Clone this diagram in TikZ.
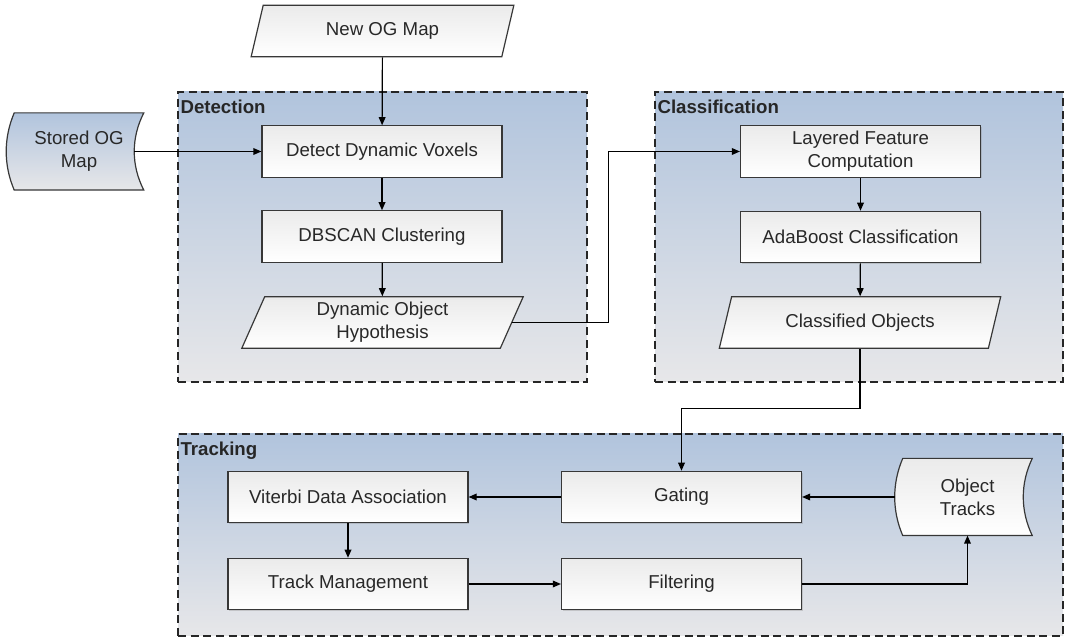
\documentclass[tikz,border=0pt]{standalone}
\usepackage{fontspec}
\setmainfont{Liberation Sans}
\usetikzlibrary{arrows.meta,shapes.geometric,shadows,fit}

\definecolor{grptop}{RGB}{177,196,221}
\definecolor{grpbot}{RGB}{231,231,233}
\definecolor{boxline}{RGB}{55,55,55}
\definecolor{textcol}{RGB}{40,40,40}

\pgfdeclarelayer{back}
\pgfdeclarelayer{mid}
\pgfsetlayers{back,mid,main}

\tikzset{
  proc/.style={rectangle, draw=boxline, line width=0.9pt, top color=black!8, bottom color=white,
    minimum width=180pt, minimum height=38.5pt, align=center, text=textcol,
    drop shadow={shadow xshift=0.9pt, shadow yshift=-0.9pt, opacity=0.3}},
  io/.style={trapezium, trapezium left angle=65, trapezium right angle=115,
    trapezium stretches body, draw=boxline, line width=0.9pt, top color=black!8, bottom color=white,
    minimum height=38.5pt, align=center, text=textcol},
  store/.style={rectangle, minimum width=96.75pt, minimum height=57.5pt, align=center, text=textcol},
  storeline/.style={draw=boxline, line width=0.9pt},
  grp/.style={rectangle, draw=black!85, line width=1.1pt, dash pattern=on 6pt off 3.5pt,
    top color=grptop, bottom color=grpbot, inner sep=0pt},
  grplabel/.style={anchor=north west, inner sep=0pt, font=\fontsize{14}{17}\selectfont\bfseries, text=black!85},
  line/.style={draw=black, line width=0.9pt},
}

\begin{document}
\begin{tikzpicture}[x=0.75pt,y=-0.75pt,>={Triangle[length=6pt,width=5pt]},
  every node/.append style={font=\fontsize{14}{17}\selectfont}]
  \useasboundingbox (0,0) rectangle (1065,641);

  \begin{pgfonlayer}{back}
  \node[grp, fit={(178,92) (587,382)}] (detbox) {};
  \node[grp, fit={(655,92) (1063,382)}] (clsbox) {};
  \node[grp, fit={(178,434) (1063,636)}] (trkbox) {};
  \end{pgfonlayer}
  \node[grplabel] at ([shift={(3,8)}]detbox.north west) {Detection};
  \node[grplabel] at ([shift={(3,8)}]clsbox.north west) {Classification};
  \node[grplabel] at ([shift={(3,8)}]trkbox.north west) {Tracking};

  % detection
  \node[io, minimum width=197pt] (newmap) at (382.5,31) {New OG Map};
  \node[store] (stored) at (79,151.5) {Stored OG\\Map};
  \node[proc] (detect) at (382,151.5) {Detect Dynamic Voxels};
  \node[proc] (dbscan) at (382,236.5) {DBSCAN Clustering};
  \node[io, minimum width=211pt] (hyp) at (382.5,322.5) {Dynamic Object\\Hypothesis};

  % classification
  \node[proc] (layered) at (860.5,151.5) {Layered Feature\\Computation};
  \node[proc] (adaboost) at (860.5,237) {AdaBoost Classification};
  \node[io, minimum width=211pt] (classified) at (860,322.5) {Classified Objects};

  % tracking
  \node[proc] (viterbi) at (348,497) {Viterbi Data Association};
  \node[proc] (gating) at (681.5,497) {Gating};
  \node[store] (tracks) at (967.5,497) {Object\\Tracks};
  \node[proc] (trackmgmt) at (348,584) {Track Management};
  \node[proc] (filtering) at (681.5,584) {Filtering};

  \begin{pgfonlayer}{mid}
  \draw[storeline, top color=grptop, bottom color=grpbot]
    (stored.north west) -- (stored.north east)
    .. controls +(-12.7,25) and +(-12.7,-25) .. (stored.south east)
    -- (stored.south west)
    .. controls +(-10.7,-25) and +(-10.7,25) .. (stored.north west) -- cycle;
  \draw[storeline, top color=black!8, bottom color=white]
    (tracks.north west) -- (tracks.north east)
    .. controls +(-12,25) and +(-12,-25) .. (tracks.south east)
    -- (tracks.south west)
    .. controls +(-10.7,-25) and +(-10.7,25) .. (tracks.north west) -- cycle;
  \end{pgfonlayer}

  \draw[line,->] (newmap) -- (detect);
  \draw[line,->] ([shift={(-9.5,0)}]stored.east) -- (detect.west);
  \draw[line,->] (detect) -- (dbscan);
  \draw[line,->] (dbscan) -- (hyp);
  \draw[line,->] (hyp.east) -- ++(96,0) |- (layered.west);
  \draw[line,->] (layered) -- (adaboost);
  \draw[line,->] (adaboost) -- (classified);
  \draw[line,->] (classified.south) -- ++(0,60) -| (gating.north);
  \draw[line,->] ([shift={(-8,0)}]tracks.west) -- (gating.east);
  \draw[line,->] (gating) -- (viterbi);
  \draw[line,->] (viterbi) -- (trackmgmt);
  \draw[line,->] (trackmgmt) -- (filtering);
  \draw[line,->] (filtering.east) -| (tracks.south);
\end{tikzpicture}
\end{document}
